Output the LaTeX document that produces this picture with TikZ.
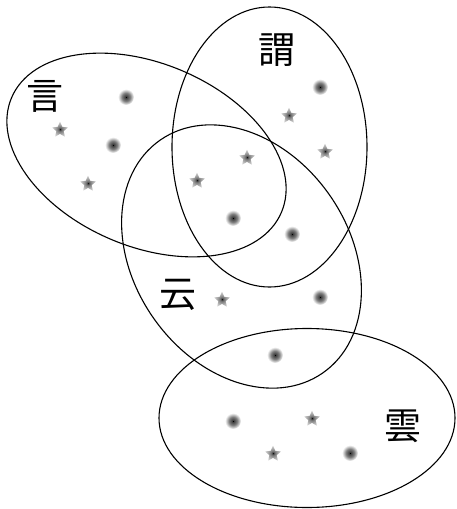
\documentclass[tikz,border=0pt]{standalone}
\usepackage{fontspec}
\usepackage{tikz}
\usetikzlibrary{shapes.geometric}
\newfontfamily\cjk{Noto Sans CJK JP}
\pgfdeclareradialshading{dotfade}{\pgfpoint{0bp}{0bp}}{color(0bp)=(black); color(3bp)=(black!75); color(13bp)=(black!50); color(25bp)=(white); color(50bp)=(white)}
\pgfdeclareradialshading{starfade}{\pgfpoint{0bp}{0bp}}{color(0bp)=(black); color(4bp)=(black!60); color(12bp)=(black!40); color(22bp)=(black!22); color(30bp)=(white); color(50bp)=(white)}

\begin{document}
\begin{tikzpicture}[x=1pt, y=-1pt, line width=1.1pt,
  word/.style={font=\cjk\fontsize{37}{37}\selectfont, inner sep=0pt},
  dotelem/.style={circle, shade, shading=dotfade, minimum size=16pt, inner sep=0pt},
  starelem/.style={star, star points=5, star point ratio=2.2, shade, shading=starfade, minimum size=17pt, inner sep=0pt}]
        \useasboundingbox (0,0) rectangle (456,509);
        % the four sets
        \draw[rotate around={-23:(146.5,155)}] (146.5,155) ellipse [x radius=146.6, y radius=91.5];
        \draw (269.5,147) ellipse [x radius=97.5, y radius=140];
        \draw[rotate around={35:(241.5,256.5)}] (241.5,256.5) ellipse [x radius=107.4, y radius=142];
        \draw (307,418) ellipse [x radius=148, y radius=89.5];
        % labels
        \node[word] (yan) at (45,96) {言};
        \node[word] (wei) at (277,50) {謂};
        \node[word] (yun) at (178,295) {云};
        \node[word] (cloud) at (403,426) {雲};
        % dots
        \node[dotelem] (d1) at (126,97) {};
        \node[dotelem] (d2) at (113,145) {};
        \node[dotelem] (d3) at (320,87) {};
        \node[dotelem] (d4) at (233,218) {};
        \node[dotelem] (d5) at (292,234) {};
        \node[dotelem] (d6) at (320,297) {};
        \node[dotelem] (d7) at (275,355) {};
        \node[dotelem] (d8) at (233,421) {};
        \node[dotelem] (d9) at (350,453) {};
        % stars
        \node[starelem] (s1) at (60,130) {};
        \node[starelem] (s2) at (88,184) {};
        \node[starelem] (s3) at (289,116) {};
        \node[starelem] (s4) at (325,152) {};
        \node[starelem] (s5) at (247,158) {};
        \node[starelem] (s6) at (197,181) {};
        \node[starelem] (s7) at (222,300) {};
        \node[starelem] (s8) at (312,419) {};
        \node[starelem] (s9) at (273,454) {};
      \end{tikzpicture}
\end{document}
